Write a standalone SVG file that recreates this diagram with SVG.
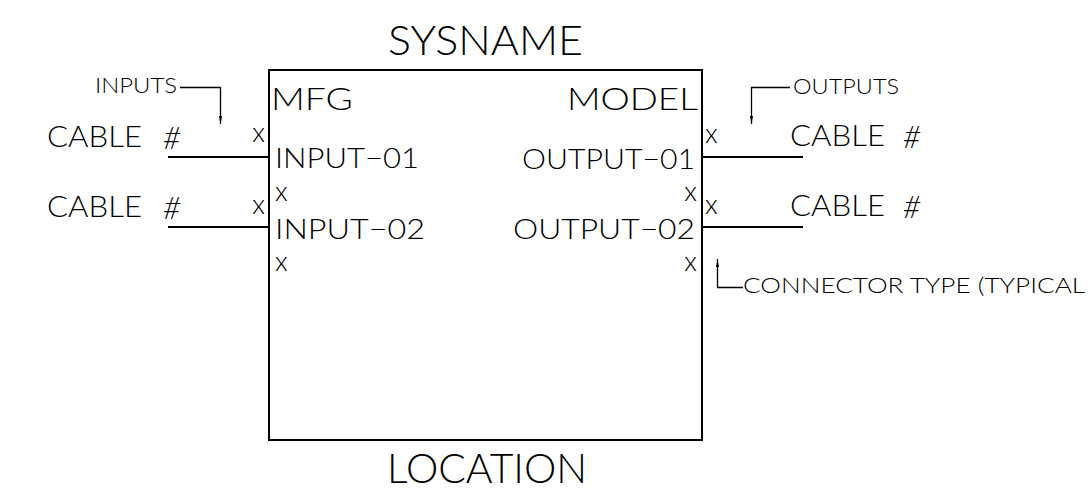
<svg xmlns="http://www.w3.org/2000/svg" width="1088" height="499" viewBox="0 0 1088 499">
<defs>
<style>
text{font-family:"Lato","Liberation Sans",Arial,sans-serif;font-weight:300;fill:#000}
.big{font-size:42px}
.hd{font-size:31px}
.port{font-size:28px}
.cab{font-size:29px}
.hash{font-size:31px;font-style:italic}
.lbl{font-size:21px}
.xm{font-size:27px}
.xr{font-size:27px;text-anchor:end}
.wire{stroke:#000;stroke-width:2;fill:none}
.lead{stroke:#000;stroke-width:1.3;fill:none}
</style>
<marker id="arr" viewBox="0 0 8 4" refX="8" refY="2" markerWidth="8" markerHeight="4" markerUnits="userSpaceOnUse" orient="auto">
<path d="M0,0.5 L8,2 L0,3.5 Z" fill="#000"/>
</marker>
</defs>
<rect width="1088" height="499" fill="#fff"/>
<g id="system">
<rect x="269" y="70" width="433" height="370" class="wire"/>
<text class="big" x="388" y="55" textLength="195" lengthAdjust="spacingAndGlyphs">SYSNAME</text>
<text class="big" x="387" y="483" textLength="200" lengthAdjust="spacingAndGlyphs">LOCATION</text>
<text class="hd" x="271" y="110" textLength="82" lengthAdjust="spacingAndGlyphs">MFG</text>
<text class="hd" x="567" y="110" textLength="131" lengthAdjust="spacingAndGlyphs">MODEL</text>
<text class="port" x="275" y="168" textLength="144" lengthAdjust="spacingAndGlyphs">INPUT−01</text>
<text class="port" x="275" y="239" textLength="150" lengthAdjust="spacingAndGlyphs">INPUT−02</text>
<text class="port" x="522" y="169" textLength="173" lengthAdjust="spacingAndGlyphs">OUTPUT−01</text>
<text class="port" x="513" y="239" textLength="182" lengthAdjust="spacingAndGlyphs">OUTPUT−02</text>
<text class="xm" x="275" y="201">x</text>
<text class="xm" x="275" y="271">x</text>
<text class="xr" x="697" y="201">x</text>
<text class="xr" x="697" y="271">x</text>
</g>
<g id="input-cables">
<text class="cab" x="47" y="147" textLength="95" lengthAdjust="spacingAndGlyphs">CABLE</text>
<text class="hash" x="163" y="149">#</text>
<text class="cab" x="47" y="217" textLength="95" lengthAdjust="spacingAndGlyphs">CABLE</text>
<text class="hash" x="163" y="219">#</text>
<text class="xr" x="265" y="142">x</text>
<text class="xr" x="265" y="214">x</text>
</g>
<g id="output-cables">
<text class="cab" x="790" y="146" textLength="95" lengthAdjust="spacingAndGlyphs">CABLE</text>
<text class="hash" x="903" y="148">#</text>
<text class="cab" x="790" y="216" textLength="95" lengthAdjust="spacingAndGlyphs">CABLE</text>
<text class="hash" x="903" y="218">#</text>
<text class="xm" x="705" y="143">x</text>
<text class="xm" x="705" y="214">x</text>
</g>
<g id="annotations">
<text class="lbl" x="95" y="93" textLength="82" lengthAdjust="spacingAndGlyphs">INPUTS</text>
<text class="lbl" x="793" y="94" textLength="106" lengthAdjust="spacingAndGlyphs">OUTPUTS</text>
<text class="lbl" x="743" y="293" textLength="342" lengthAdjust="spacingAndGlyphs">CONNECTOR TYPE (TYPICAL</text>
</g>
<g id="connectors">
<line x1="168" y1="157" x2="269" y2="157" class="wire"/>
<line x1="168" y1="227" x2="269" y2="227" class="wire"/>
<line x1="702" y1="157" x2="803" y2="157" class="wire"/>
<line x1="702" y1="227" x2="803" y2="227" class="wire"/>
<path d="M180,87.5 H220.5 V124" class="lead" marker-end="url(#arr)"/>
<path d="M790,87.5 H751.5 V124" class="lead" marker-end="url(#arr)"/>
<path d="M743,287.5 H717.5 V259" class="lead" marker-end="url(#arr)"/>
</g>
</svg>
